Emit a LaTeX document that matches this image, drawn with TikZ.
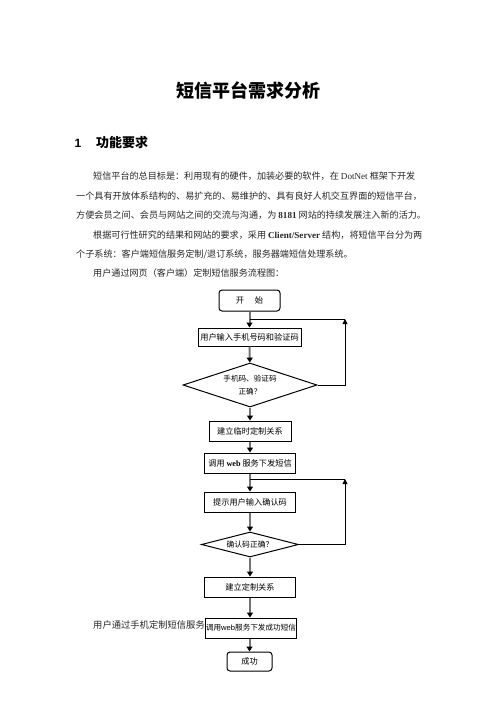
\documentclass[tikz,border=0pt]{standalone}
\usepackage{fontspec}
\setmainfont{Noto Sans CJK SC}
\newfontfamily\latserif{Liberation Serif}
\newfontfamily\latsans{Liberation Sans}
\usetikzlibrary{positioning, shapes.geometric, arrows.meta}

\begin{document}
\begin{tikzpicture}[x=1pt, y=-1pt,
  body/.style={anchor=west, inner sep=0pt, text=black!85, font=\fontsize{9.1}{11}\selectfont},
  procbox/.style={draw, line width=1pt, fill=white, minimum width=91pt, minimum height=20pt,
    inner sep=1pt, font=\fontsize{8.2}{10}\selectfont},
  termbox/.style={procbox, rounded corners=3pt},
  decision/.style={draw, diamond, line width=1pt, inner sep=0pt, aspect=3},
  flow/.style={draw=black!55, line width=2pt, -{Triangle[color=black, length=5pt, width=6pt]}},
  backflow/.style={line width=0.9pt, -{Triangle[length=5pt, width=5pt]}},
  backline/.style={line width=0.9pt},
]
  \useasboundingbox (0,0) rectangle (496,702);

  % heading
  \node[font=\fontsize{18}{20}\selectfont\bfseries] (title) at (248,90) {短信平台需求分析};
  \node[anchor=center, font=\fontsize{12}{14}\latsans\bfseries] (sec_num) at (78,143) {1};
  \node[anchor=west, inner sep=0pt, font=\fontsize{13}{15}\selectfont\bfseries] (sec_name) at (96,143) {功能要求};

  % text
  \node[body] (line_1) at (93,176) {短信平台的总目标是：利用现有的硬件，加装必要的软件，在 {\latserif DotNet} 框架下开发};
  \node[body] (line_2) at (76,196) {一个具有开放体系结构的、易扩充的、易维护的、具有良好人机交互界面的短信平台，};
  \node[body] (line_3) at (76,215) {方便会员之间、会员与网站之间的交流与沟通，为 {\latserif\bfseries 8181} 网站的持续发展注入新的活力。};
  \node[body] (line_4) at (93,235) {根据可行性研究的结果和网站的要求，采用 {\latserif\bfseries Client/Server} 结构，将短信平台分为两};
  \node[body] (line_5) at (76,254) {个子系统：客户端短信服务定制/退订系统，服务器端短信处理系统。};
  \node[body] (line_6) at (93,273) {用户通过网页（客户端）定制短信服务流程图：};
  \node[body, font=\fontsize{9.3}{11}\selectfont] (line_7) at (93,625) {用户通过手机定制短信服务};

  % flow chart
  \node[termbox, minimum width=61pt, minimum height=21pt] (box_start) at (249.5,300.5) {开\hspace{1.3em}始};
  \node[procbox, minimum width=103pt, minimum height=18pt] (box_input) at (249.5,337) {用户输入手机号码和验证码};
  \node[decision, minimum width=134pt, minimum height=44pt, align=center,
    font=\fontsize{7.6}{13}\selectfont] (dec_code) at (250,385) {手机码、验证码\hspace{1em}\\正确？};
  \node[procbox, minimum width=82pt] (box_temp) at (250,431) {建立临时定制关系};
  \node[procbox] (box_send) at (250,463) {调用 {\latserif\bfseries web} 服务下发短信};
  \node[procbox] (box_prompt) at (250,502) {提示用户输入确认码};
  \node[decision, minimum width=97pt, minimum height=25pt, aspect=4,
    font=\fontsize{7.8}{10}\selectfont] (dec_confirm) at (250,544.5) {确认码正确？};
  \node[procbox] (box_bind) at (250,587) {建立定制关系};
  \node[procbox, minimum width=90pt, font=\fontsize{7.6}{10}\selectfont] (box_ok) at (251,628)
    {调用{\latsans web}服务下发成功短信};
  \node[termbox, minimum width=45pt, minimum height=19pt] (box_end) at (249.5,661.5) {成功};

  \draw[flow] (box_start) -- (box_input);
  \draw[flow] (box_input) -- (dec_code);
  \draw[flow] (dec_code) -- (box_temp);
  \draw[flow] (box_temp) -- (box_send);
  \draw[flow] (box_send) -- (box_prompt);
  \draw[flow] (box_prompt) -- (dec_confirm);
  \draw[flow] (dec_confirm) -- (box_bind);
  \draw[flow] (box_bind.south) -- (box_bind.south |- box_ok.north);
  \draw[flow] (box_end.north |- box_ok.south) -- (box_end.north);

  % back loops
  \coordinate (back_1) at (345,319);
  \coordinate (back_2) at (345,479);
  \draw[backflow] (dec_code.east) -| (back_1);
  \draw[backline] (back_1) -- (back_1 -| box_start.south);
  \draw[backflow] (dec_confirm.east) -| (back_2);
  \draw[backline] (back_2) -- (back_2 -| box_send.south);
\end{tikzpicture}
\end{document}
